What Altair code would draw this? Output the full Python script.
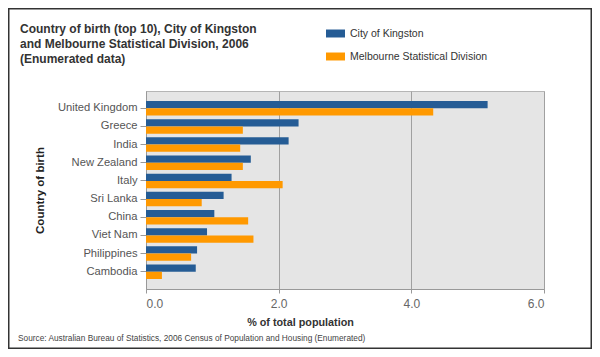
import altair as alt
import pandas as pd

countries = ["United Kingdom", "Greece", "India", "New Zealand", "Italy",
             "Sri Lanka", "China", "Viet Nam", "Philippines", "Cambodia"]
series_names = ["City of Kingston", "Melbourne Statistical Division"]
kingston = [5.15, 2.30, 2.15, 1.58, 1.29, 1.17, 1.03, 0.92, 0.77, 0.75]
melbourne = [4.33, 1.46, 1.42, 1.46, 2.06, 0.84, 1.54, 1.62, 0.68, 0.24]
colors = ["#255C95", "#FF9900"]
x_ticks = [0, 2, 4, 6]
title_text = ("Country of birth (top 10), City of Kingston\n"
              "and Melbourne Statistical Division, 2006\n"
              "(Enumerated data)")
source_text = "Source: Australian Bureau of Statistics, 2006 Census of Population and Housing (Enumerated)"

rows = []
for i, c in enumerate(countries):
    rows.append({"country": c, "series": series_names[0], "value": kingston[i]})
    rows.append({"country": c, "series": series_names[1], "value": melbourne[i]})
df = pd.DataFrame(rows)

FONT = "Liberation Sans"

bars = alt.Chart(df).mark_bar().encode(
    y=alt.Y("country:N", sort=countries,
            scale=alt.Scale(paddingInner=0.2, paddingOuter=0.55),
            axis=alt.Axis(title="Country of birth", labelFontSize=11.2, labelColor="#555555",
                          labelFont=FONT, labelPadding=3, tickSize=6, tickColor="#999999",
                          domainColor="#999999", titleFont=FONT, titleFontSize=11.5,
                          titleFontWeight="bold", titleColor="#222222", titleAngle=270,
                          titleX=-106, titleY=99, titleAlign="center",
                          titleBaseline="middle")),
    yOffset=alt.YOffset("series:N", sort=series_names),
    x=alt.X("value:Q", scale=alt.Scale(domain=[0, 6], nice=False),
            axis=alt.Axis(title="% of total population", values=x_ticks, format=".1f",
                          grid=True, gridColor="#a0a0a0", domainColor="#999999",
                          tickColor="#999999", tickSize=4, labelColor="#666666",
                          labelFont=FONT, labelFontSize=12, labelPadding=5,
                          titleFont=FONT, titleFontSize=10.8, titleFontWeight="bold",
                          titleColor="#333333", titleX=154, titlePadding=7)),
    color=alt.Color("series:N", sort=series_names,
                    scale=alt.Scale(domain=series_names, range=colors),
                    legend=alt.Legend(title=None, orient="none", legendX=180, legendY=-67,
                                      symbolType="M-1,-0.42H1V0.42H-1Z", symbolSize=361,
                                      symbolStrokeWidth=0, symbolOpacity=1,
                                      labelFont=FONT, labelFontSize=10.5,
                                      labelColor="#333333", labelOffset=5,
                                      rowPadding=8)),
)

title = alt.Chart(pd.DataFrame({"t": [title_text]})).mark_text(
    align="left", baseline="alphabetic", font=FONT, fontSize=12, fontWeight="bold",
    color="#333333", lineBreak="\n", lineHeight=15
).encode(text="t:N", x=alt.value(-126), y=alt.value(-58))

source = alt.Chart(pd.DataFrame({"t": [source_text]})).mark_text(
    align="left", baseline="middle", font=FONT, fontSize=8.3, color="#444444"
).encode(text="t:N", x=alt.value(-128), y=alt.value(248))

frame = alt.Chart(pd.DataFrame({"t": [0]})).mark_rect(
    fillOpacity=0, stroke="#333333", strokeWidth=1.5
).encode(x=alt.value(-137.25), x2=alt.value(445.25), y=alt.value(-82.25), y2=alt.value(257.25))

chart = alt.layer(bars, title, source, frame).properties(
    width=398, height=198,
    padding={"left": 138, "top": 83, "right": 48, "bottom": 60},
    autosize=alt.AutoSizeParams(type="none"),
    background="white",
).configure_view(fill="#e5e5e5", stroke="#b5b5b5")

chart.save("out.html", embed_options={"renderer": "svg", "actions": False})
